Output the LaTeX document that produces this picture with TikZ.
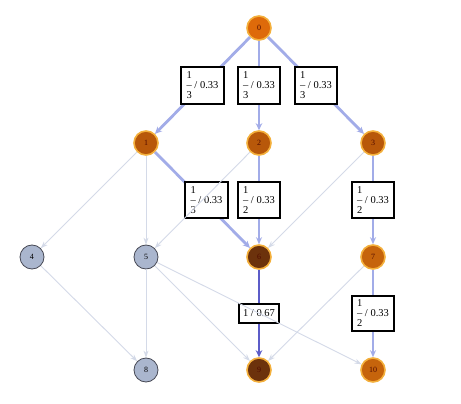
\documentclass[tikz,border=0pt]{standalone}
\usepackage{fontspec}
\setmainfont{Liberation Serif}
\usetikzlibrary{arrows.meta}
\definecolor{cA}{RGB}{222,106,10}
\definecolor{cB}{RGB}{184,88,10}
\definecolor{cC}{RGB}{198,100,12}
\definecolor{cD}{RGB}{108,50,12}
\definecolor{cGray}{RGB}{170,182,206}
\definecolor{rimHot}{RGB}{244,176,60}
\definecolor{rimCold}{RGB}{70,72,84}
\definecolor{eFaint}{RGB}{212,218,232}
\definecolor{eBlue}{RGB}{162,172,232}
\definecolor{eDark}{RGB}{92,92,200}
\definecolor{txtHot}{RGB}{80,10,0}
\begin{document}
\begin{tikzpicture}[x=1pt,y=-1pt,
  vtx/.style={circle, minimum size=24pt, inner sep=0pt, font=\fontsize{8}{8}\selectfont},
  hot/.style={vtx, draw=rimHot, line width=1.6pt, text=txtHot},
  cold/.style={vtx, draw=rimCold, fill=cGray, line width=0.8pt, text=black},
  lbl/.style={draw=black, line width=2pt, fill=white, font=\fontsize{10.5}{10}\selectfont, align=left, inner xsep=5.5pt, inner ysep=4.5pt, text=black},
  faint/.style={draw=eFaint, line width=0.9pt, -{Stealth[length=7pt,width=5pt]}},
  strong/.style={draw=eBlue, line width=2.8pt, -{Stealth[length=7pt,width=6.5pt]}},
  mid/.style={draw=eBlue, line width=2.2pt, -{Stealth[length=7pt,width=6pt]}},
  darkedge/.style={draw=eDark, line width=2.8pt, -{Stealth[length=7pt,width=6.5pt]}}
]
\useasboundingbox (0,0) rectangle (461,404);
\fill[white] (0,0) rectangle (461,404);

\node[hot, fill=cA] (n0) at (259,28) {0};
\node[hot, fill=cB] (n1) at (146,143) {1};
\node[hot, fill=cB] (n2) at (259,143) {2};
\node[hot, fill=cB] (n3) at (373,143) {3};
\node[cold] (n4) at (32,257) {4};
\node[cold] (n5) at (146,257) {5};
\node[hot, fill=cD] (n6) at (259,257) {6};
\node[hot, fill=cC] (n7) at (373,257) {7};
\node[cold] (n8) at (146,370) {8};
\node[hot, fill=cD] (n9) at (259,370) {9};
\node[hot, fill=cC] (n10) at (373,370) {10};

% strong edges with labels
\draw[strong] (n0) -- (n1) node[lbl, midway] {1\\-- / 0.33\\3};
\draw[strong] (n0) -- (n2) node[lbl, midway] {1\\-- / 0.33\\3};
\draw[strong] (n0) -- (n3) node[lbl, midway] {1\\-- / 0.33\\3};
\draw[strong] (n1) -- (n6) node[lbl, midway, xshift=4pt] {1\\-- / 0.33\\3};
\draw[mid] (n2) -- (n6) node[lbl, midway] {1\\-- / 0.33\\2};
\draw[mid] (n3) -- (n7) node[lbl, midway] {1\\-- / 0.33\\2};
\draw[mid] (n7) -- (n10) node[lbl, midway] {1\\-- / 0.33\\2};
\draw[darkedge] (n6) -- (n9) node[lbl, midway, inner xsep=4.5pt, inner ysep=6pt] {1 / 0.67};

% faint edges
\draw[faint] (n1) -- (n4);
\draw[faint] (n1) -- (n5);
\draw[faint] (n2) -- (n5);
\draw[faint] (n3) -- (n6);
\draw[faint] (n4) -- (n8);
\draw[faint] (n5) -- (n8);
\draw[faint] (n5) -- (n9);
\draw[faint] (n5) -- (n10);
\draw[faint] (n7) -- (n9);
\end{tikzpicture}
\end{document}
